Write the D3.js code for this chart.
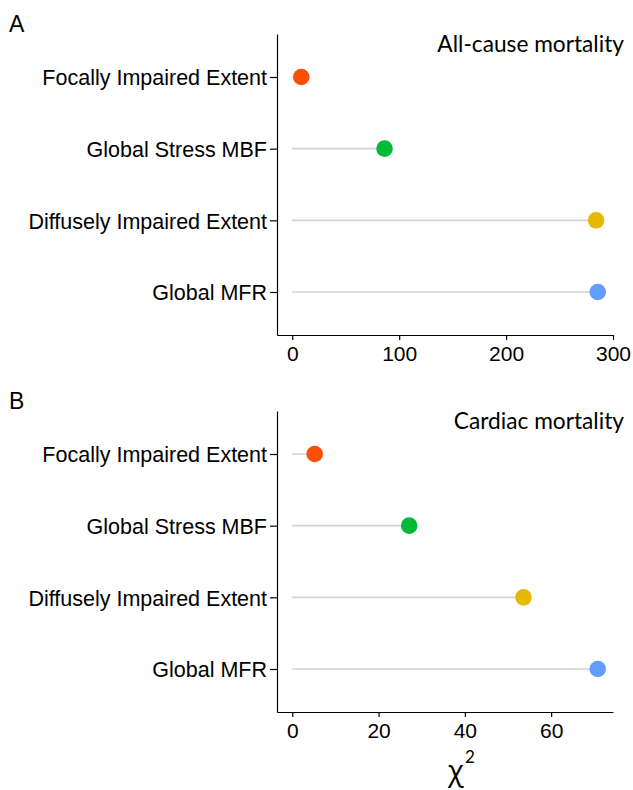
<!DOCTYPE html>
<html>
<head>
<meta charset="utf-8">
<script src="https://cdn.jsdelivr.net/npm/d3@7"></script>
<style>
  body { margin: 0; background: #fff; }
  svg { display: block; }
  .axis text { font-family: "Liberation Sans", Arial, sans-serif; fill: #000; }
  .axis path, .axis line { stroke: #000; stroke-width: 1.2; }
</style>
</head>
<body>
<svg id="chart" width="633" height="790"></svg>
<script>
// measures, top to bottom
const measures = ["Focally Impaired Extent", "Global Stress MBF", "Diffusely Impaired Extent", "Global MFR"];
const colors = ["#FC4E07", "#00BA38", "#E7B800", "#619CFF"];

// chi-square values
const allCause = [8.4, 86.3, 284.2, 285.7];
const cardiac = [5.2, 27.1, 53.6, 70.8];

const panelTitles = ["All-cause mortality", "Cardiac mortality"];
const panelLetters = ["A", "B"];
const ticksA = [0, 100, 200, 300];
const ticksB = [0, 20, 40, 60];

const svg = d3.select("#chart");

function drawPanel(values, ticks, title, letter, top) {
	let g = svg.append("g").attr("transform", "translate(0," + top + ")");

	let left = 277, right = 613;
	let plotTop = 34, plotBottom = 335;

	let max = d3.max(values);
	let x = d3.scaleLinear()
		.domain([-max * 0.05, max * 1.05])
		.range([left, right]);

	let y = d3.scalePoint()
		.domain(measures)
		.range([plotTop, plotBottom])
		.padding(0.6);

	// segments
	g.selectAll("line.seg")
		.data(values)
		.enter()
		.append("line")
		.attr("class", "seg")
		.attr("x1", x(0))
		.attr("x2", d => x(d))
		.attr("y1", (d, i) => y(measures[i]))
		.attr("y2", (d, i) => y(measures[i]))
		.attr("stroke", "#d3d3d3")
		.attr("stroke-width", 1.6);

	// dots
	g.selectAll("circle")
		.data(values)
		.enter()
		.append("circle")
		.attr("cx", d => x(d))
		.attr("cy", (d, i) => y(measures[i]))
		.attr("r", 8.3)
		.attr("fill", (d, i) => colors[i]);

	// axes
	g.append("g")
		.attr("class", "axis")
		.attr("transform", "translate(0," + plotBottom + ")")
		.call(d3.axisBottom(x).tickValues(ticks).tickSize(5).tickSizeOuter(0).tickPadding(5))
		.selectAll("text")
		.attr("dy", "0.76em")
		.style("font-size", "21px");

	g.append("g")
		.attr("class", "axis")
		.attr("transform", "translate(" + left + ",0)")
		.call(d3.axisLeft(y).tickSize(7).tickSizeOuter(0).tickPadding(3))
		.selectAll("text")
		.attr("dy", "0.36em")
		.style("font-size", "21.5px");

	// title
	g.append("text")
		.attr("x", 624)
		.attr("y", 52)
		.attr("text-anchor", "end")
		.style("font-family", "Lato, sans-serif")
		.style("font-size", "22.7px")
		.text(title);

	// panel letter
	g.append("text")
		.attr("x", 9)
		.attr("y", 32)
		.style("font-family", "Liberation Sans, Arial, sans-serif")
		.style("font-size", "23px")
		.text(letter);
}

drawPanel(allCause, ticksA, panelTitles[0], panelLetters[0], 0);
drawPanel(cardiac, ticksB, panelTitles[1], panelLetters[1], 377);

// x axis title: chi squared
let xt = svg.append("g");
xt.append("text")
	.attr("x", 456)
	.attr("y", 781)
	.attr("text-anchor", "middle")
	.style("font-family", "Open Sans, sans-serif")
	.style("font-size", "29px")
	.text("χ");
xt.append("text")
	.attr("x", 470)
	.attr("y", 763)
	.attr("text-anchor", "middle")
	.style("font-family", "Lato, sans-serif")
	.style("font-size", "17px")
	.text("2");
</script>
</body>
</html>
